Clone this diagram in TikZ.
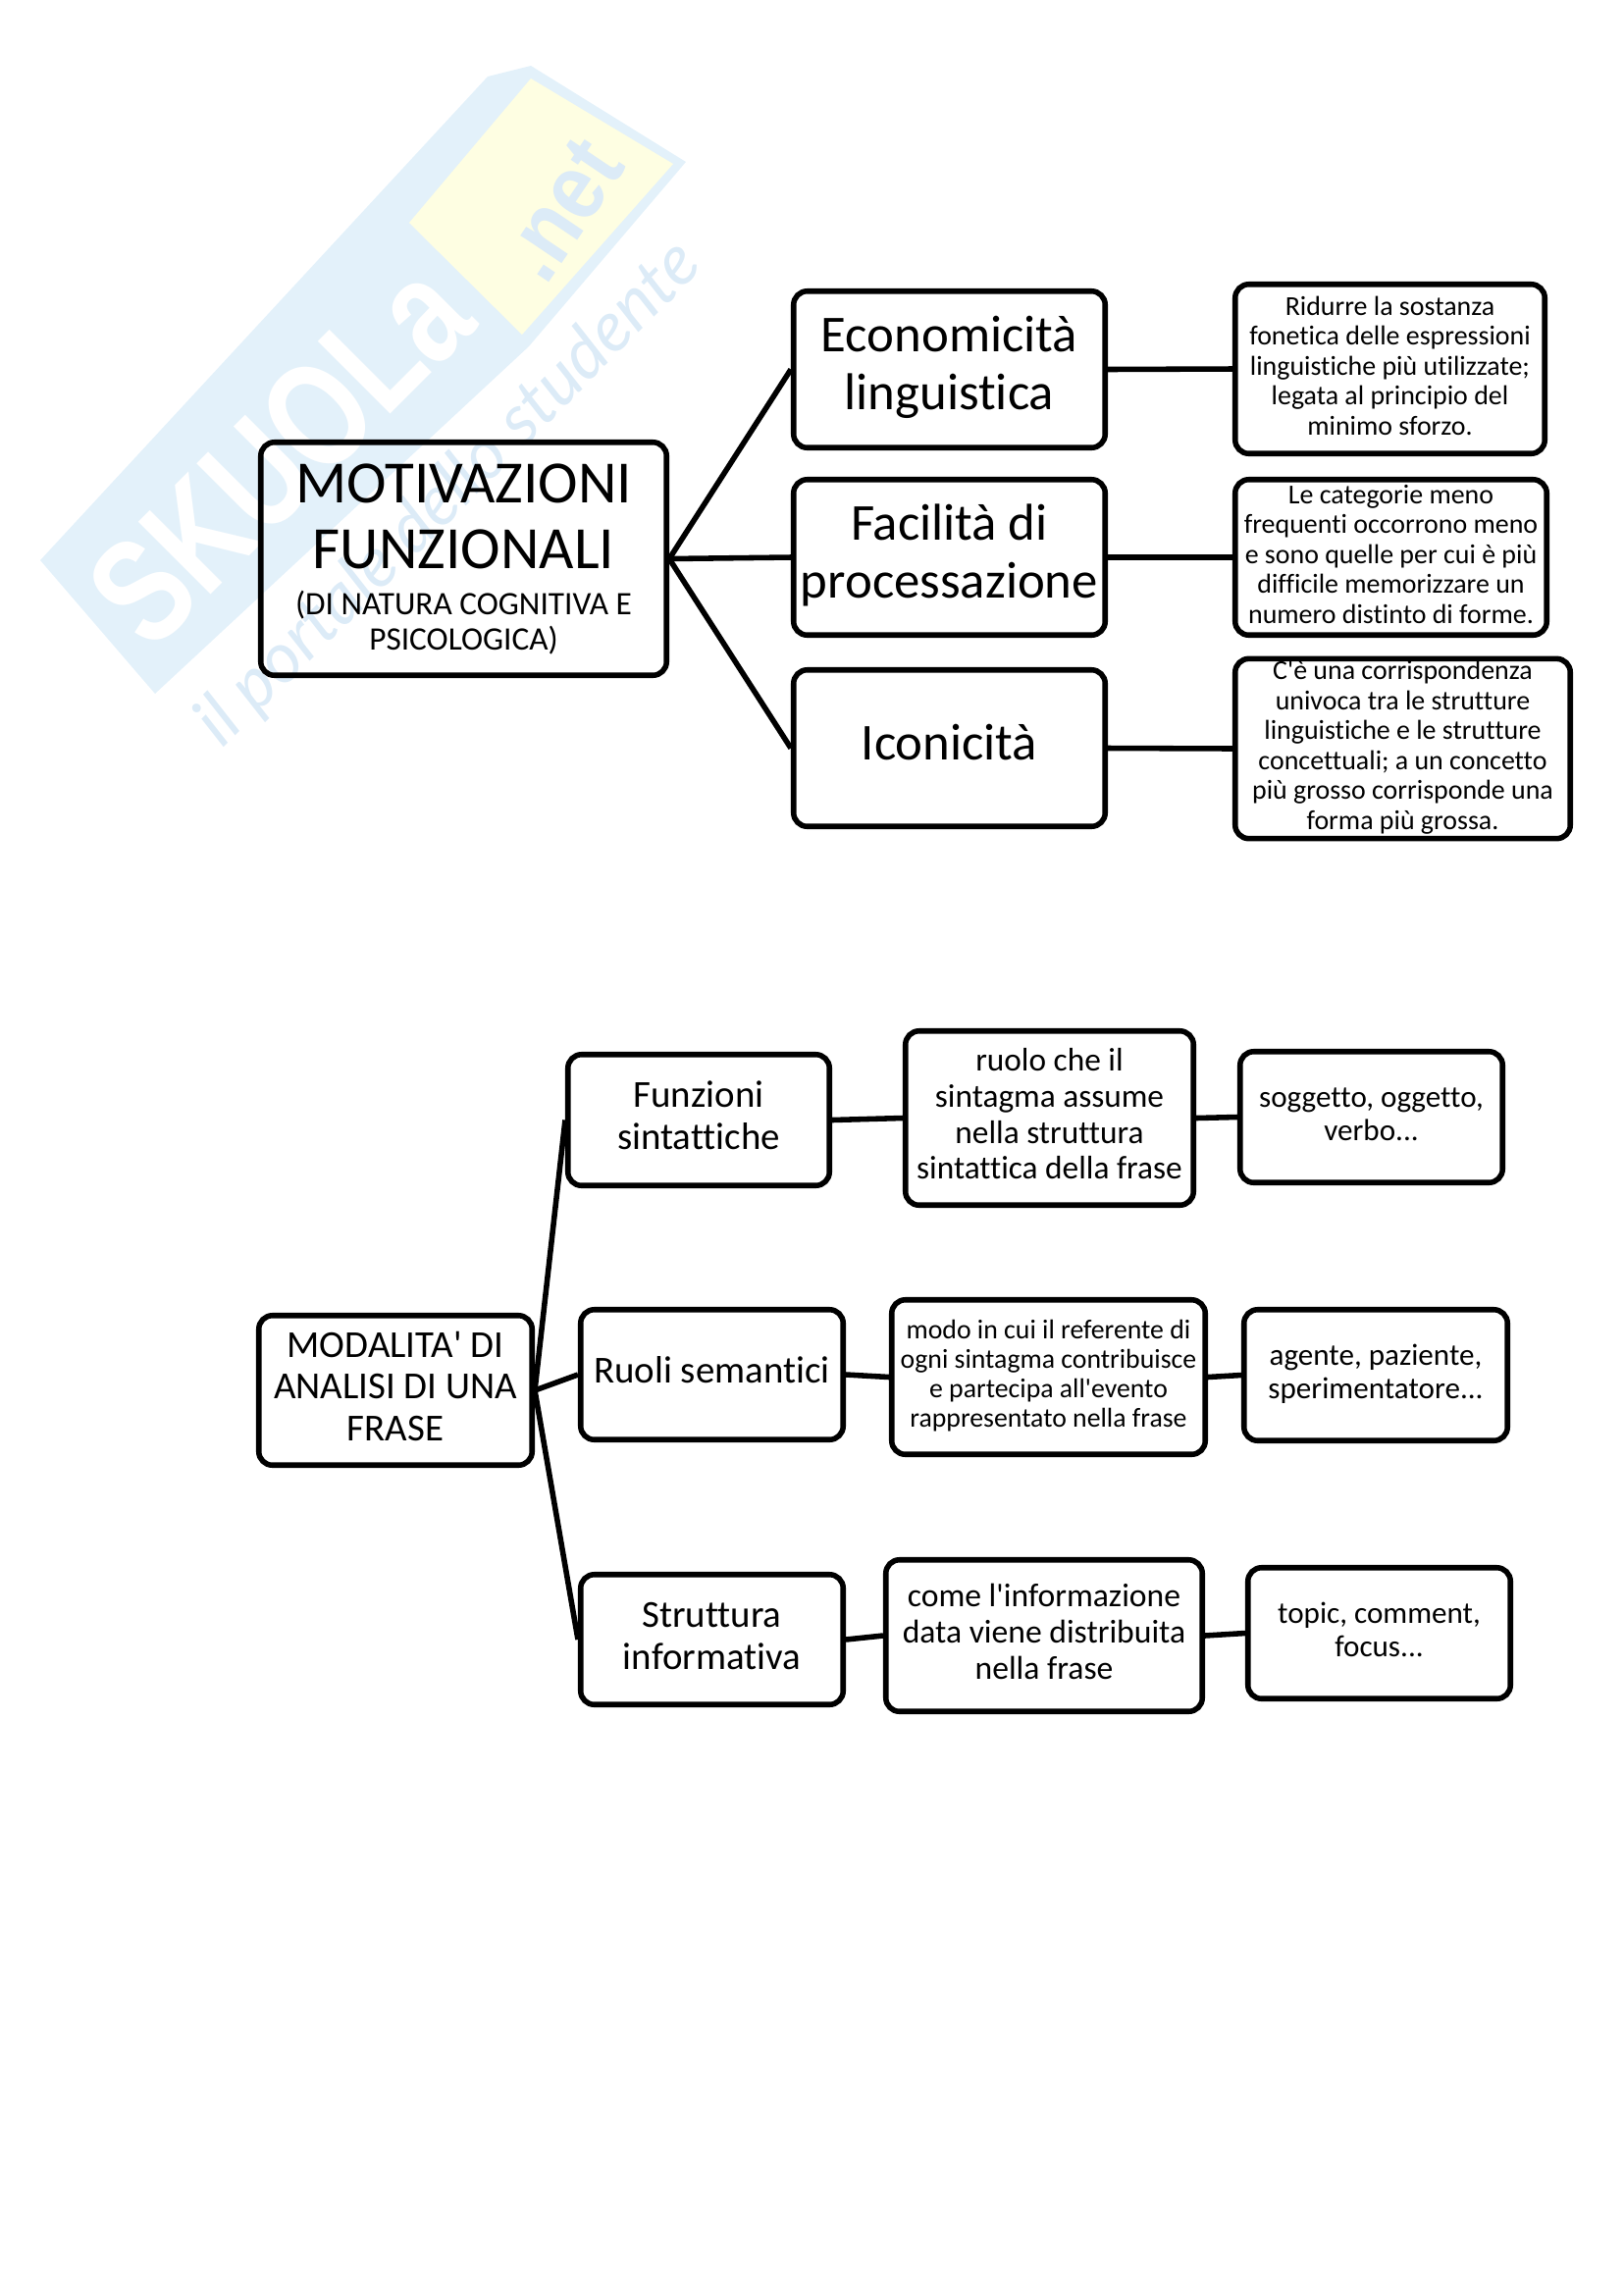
\documentclass[tikz,border=0pt]{standalone}
\usepackage{fontspec}
\newfontfamily\bodyfont[Ligatures=NoCommon]{Carlito}
\newfontfamily\wmfont{Liberation Sans}
\newfontfamily\wmscript{Lato}
\definecolor{wmblue}{HTML}{E3F1FA}
\definecolor{wmyellow}{HTML}{FEFEE2}
\definecolor{wmtext}{HTML}{DCEBF7}
\tikzset{
  boxnode/.style={draw=black,line width=2pt,rounded corners=5pt,inner sep=0pt,align=center,text=black},
  linkline/.style={draw=black,line width=2pt},
  wmlabel/.style={inner sep=0pt}
}
\newcommand{\boxnode}[9]{%
  \pgfmathsetmacro{\bw}{(#4-#2-3.5)*0.36}%
  \pgfmathsetmacro{\bh}{(#5-#3-3.5)*0.36}%
  \pgfmathsetmacro{\bup}{#8*0.36}%
  \node[boxnode,minimum width=\bw pt,minimum height=\bh pt,font=\bodyfont\fontsize{#6}{#7}\selectfont]
    (#1) at ({(#2+#4)/2},{(#3+#5)/2})
    {\raisebox{\bup pt}{\begin{tabular}{@{}c@{}}#9\end{tabular}}};%
}
\begin{document}
\begin{tikzpicture}[x=0.36pt,y=-0.36pt]
\useasboundingbox (0,0) rectangle (1654,2338);
% watermark
\fill[wmblue] (41,571) -- (497,78) -- (541,67) -- (699,165) -- (539,353) -- (158,707) -- cycle;
\fill[wmyellow] (541,80) -- (686,167) -- (532,341) -- (417,227) -- cycle;
\node[wmlabel,rotate=45,yscale=1.3,text=white,font=\wmfont\bfseries\fontsize{42}{42}\selectfont] (wmA) at (285,462) {SKUOLa};
\node[wmlabel,rotate=56,yscale=1.15,text=wmtext,font=\wmfont\bfseries\fontsize{30}{30}\selectfont] (wmB) at (572,214) {.net};
\node[wmlabel,rotate=45,text=wmtext,font=\wmscript\itshape\fontsize{25.7}{25.7}\selectfont] (wmC) at (458,504) {il portale dello studente};
% first diagram
\boxnode{m1}{264}{449}{681}{690}{22}{24.1}{-4}{MOTIVAZIONI\\FUNZIONALI\\{\fontsize{12}{13}\selectfont\begin{tabular}{@{}c@{}}(DI NATURA COGNITIVA E\\PSICOLOGICA)\end{tabular}}}
\boxnode{a1}{807}{295}{1128}{458}{19}{21.3}{-4}{Economicità\\linguistica}
\boxnode{a2}{807}{487}{1128}{649}{19}{21.3}{-4.5}{Facilità di\\processazione}
\boxnode{a3}{807}{681}{1128}{844}{19}{21.3}{-4.5}{Iconicità}
\boxnode{b1}{1257}{288}{1576}{464}{10.05}{11}{-3}{Ridurre la sostanza\\fonetica delle espressioni\\linguistiche più utilizzate;\\legata al principio del\\minimo sforzo.}
\boxnode{b2}{1257}{487}{1578}{649}{10.05}{11}{-2}{Le categorie meno\\frequenti occorrono meno\\e sono quelle per cui è più\\difficile memorizzare un\\numero distinto di forme.}
\boxnode{b3}{1257}{672}{1602}{854}{10.05}{11}{-2}{C'è una corrispondenza\\univoca tra le strutture\\linguistiche e le strutture\\concettuali; a un concetto\\più grosso corrisponde una\\forma più grossa.}
\foreach \t in {a1,a2,a3} \draw[linkline] (m1.east) -- (\t.west);
\draw[linkline] (a1.east) -- (b1.west);
\draw[linkline] (a2.east) -- (b2.west);
\draw[linkline] (a3.east) -- (b3.west);
% second diagram
\boxnode{m2}{262}{1339}{544}{1495}{14}{15.3}{-4}{MODALITA' DI\\ANALISI DI UNA\\FRASE}
\boxnode{c1}{577}{1073}{847}{1210}{14}{15.5}{-3}{Funzioni\\sintattiche}
\boxnode{c2}{590}{1333}{861}{1469}{14}{15.5}{-4.5}{Ruoli semantici}
\boxnode{c3}{590}{1603}{861}{1739}{14}{15.5}{-3.5}{Struttura\\informativa}
\boxnode{d1}{921}{1049}{1218}{1230}{12}{13.2}{-4.5}{ruolo che il\\sintagma assume\\nella struttura\\sintattica della frase}
\boxnode{d2}{907}{1323}{1230}{1484}{10}{10.9}{-3}{modo in cui il referente di\\ogni sintagma contribuisce\\e partecipa all'evento\\rappresentato nella frase}
\boxnode{d3}{901}{1588}{1227}{1746}{12.1}{13.2}{-4.5}{come l'informazione\\data viene distribuita\\nella frase}
\boxnode{e1}{1262}{1070}{1533}{1207}{11.2}{12.4}{-4.5}{soggetto, oggetto,\\verbo...}
\boxnode{e2}{1266}{1333}{1538}{1470}{11.2}{12.4}{-4}{agente, paziente,\\sperimentatore...}
\boxnode{e3}{1270}{1596}{1541}{1733}{11.2}{12.4}{-4.5}{topic, comment,\\focus...}
\foreach \t in {c1,c2,c3} \draw[linkline] (m2.east) -- (\t.west);
\draw[linkline] (c1.east) -- (d1.west);
\draw[linkline] (c2.east) -- (d2.west);
\draw[linkline] (c3.east) -- (d3.west);
\draw[linkline] (d1.east) -- (e1.west);
\draw[linkline] (d2.east) -- (e2.west);
\draw[linkline] (d3.east) -- (e3.west);
\end{tikzpicture}
\end{document}
